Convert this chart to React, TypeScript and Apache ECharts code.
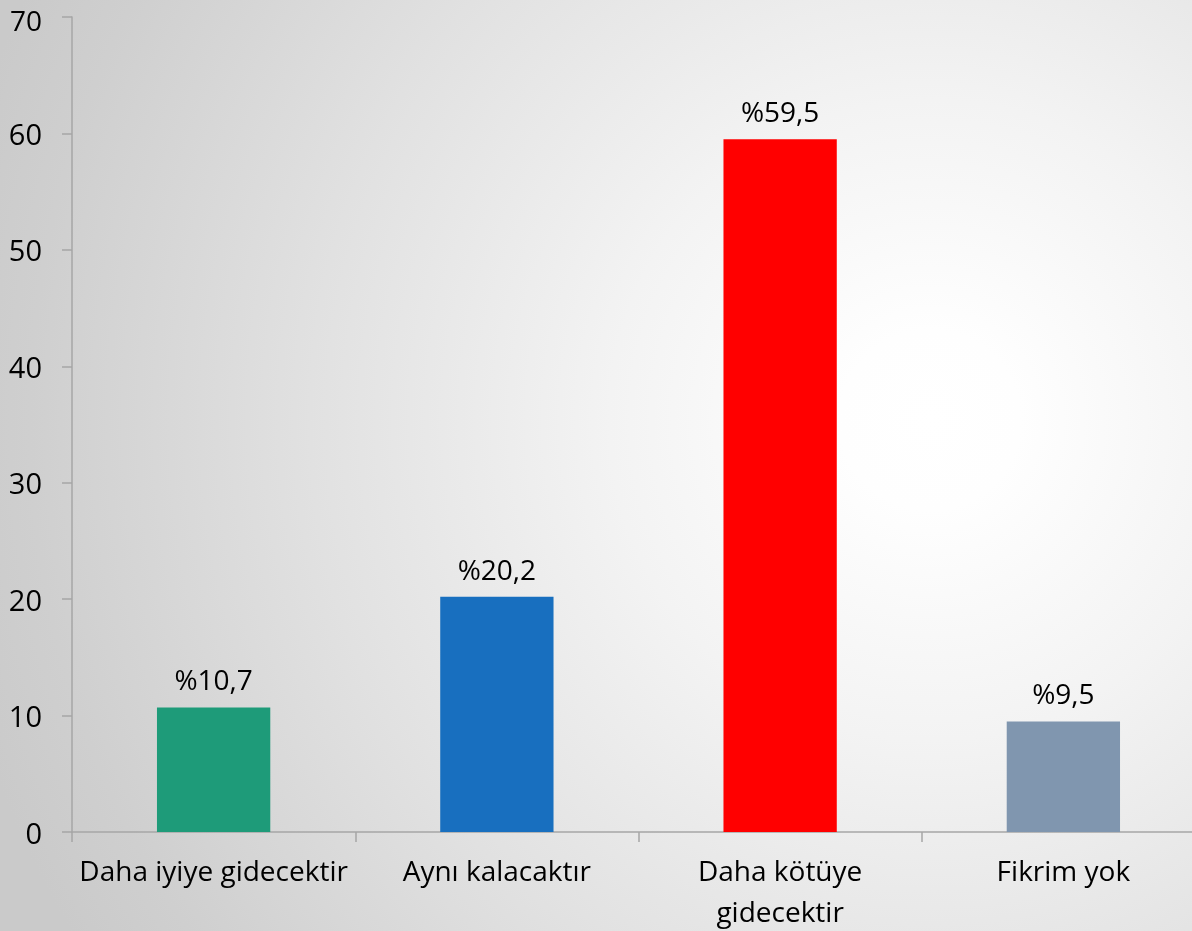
import React, { useEffect, useRef } from "react";
import * as echarts from "echarts";

const categories = ["Daha iyiye gidecektir", "Aynı kalacaktır", "Daha kötüye\ngidecektir", "Fikrim yok"];
const values = [10.7, 20.2, 59.5, 9.5];
const barColors = ["#1E9B79", "#186FBF", "#FF0000", "#8096AF"];
const yTicks = { min: 0, max: 70, interval: 10 };

const FONT = "'Open Sans', 'Noto Sans', sans-serif";

export default function App() {
  const ref = useRef<HTMLDivElement>(null);
  useEffect(() => {
    if (!ref.current) return;
    const chart = echarts.init(ref.current, undefined, { renderer: "svg" });
    chart.setOption({
      animation: false,
      backgroundColor: "transparent",
      textStyle: { fontFamily: FONT },
      grid: { left: 72, top: 17, bottom: 98, right: 0, containLabel: false },
      xAxis: {
        type: "category",
        data: categories,
        axisLine: { show: true, lineStyle: { color: "#a6a6a6", width: 1.5 } },
        axisTick: { show: true, alignWithLabel: false, length: 10, lineStyle: { color: "#a6a6a6", width: 1.5 } },
        axisLabel: {
          color: "#000",
          fontSize: 28,
          fontFamily: FONT,
          margin: 17,
          lineHeight: 41,
          interval: 0,
        },
      },
      yAxis: {
        type: "value",
        min: yTicks.min,
        max: yTicks.max,
        interval: yTicks.interval,
        axisLine: { show: true, lineStyle: { color: "#a6a6a6", width: 1.5 } },
        axisTick: { show: true, length: 10, lineStyle: { color: "#a6a6a6", width: 1.5 } },
        splitLine: { show: false },
        axisLabel: {
          color: "#000",
          fontSize: 29,
          fontFamily: FONT,
          margin: 30,
          formatter: (v: number) => (v === yTicks.max ? `{top|${v}}` : `{n|${v}}`),
          rich: {
            top: { color: "#000", fontSize: 28, fontFamily: FONT, padding: [6, 0, 0, 0] },
            n: { color: "#000", fontSize: 29, fontFamily: FONT },
          },
        },
      },
      series: [
        {
          type: "bar",
          barWidth: "40%",
          data: values.map((v, i) => ({ value: v, itemStyle: { color: barColors[i] } })),
          label: {
            show: true,
            position: "top",
            distance: 14,
            color: "#000",
            fontSize: 28,
            fontFamily: FONT,
            formatter: (p: any) => "%" + String(p.value).replace(".", ","),
          },
        },
      ],
    });
    return () => chart.dispose();
  }, []);
  return (
    <div
      ref={ref}
      style={{
        position: "fixed",
        left: 0,
        top: 0,
        width: 1205,
        height: 931,
        background:
          "radial-gradient(circle at 930px 420px, #ffffff 0px, #fefefe 90px, #f3f3f3 320px, #e1e1e1 620px, #cfcfcf 900px, #cacaca 1000px)",
      }}
    />
  );
}
